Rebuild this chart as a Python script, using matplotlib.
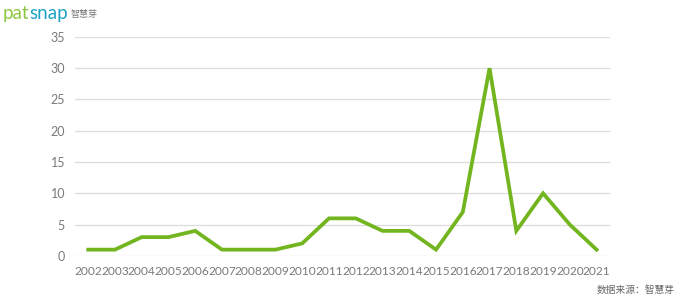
import matplotlib
matplotlib.use("Agg")
import matplotlib.pyplot as plt
from matplotlib.transforms import offset_copy

plt.rcParams['font.family'] = ['Lato', 'Noto Sans CJK SC', 'DejaVu Sans']

years = [2002, 2003, 2004, 2005, 2006, 2007, 2008, 2009, 2010, 2011,
         2012, 2013, 2014, 2015, 2016, 2017, 2018, 2019, 2020, 2021]
counts = [1, 1, 3, 3, 4, 1, 1, 1, 2, 6, 6, 4, 4, 1, 7, 30, 4, 10, 5, 1]
yticks = [0, 5, 10, 15, 20, 25, 30, 35]

fig = plt.figure(figsize=(6.8, 3.0), dpi=100)
ax = fig.add_axes([0.110, 0.147, 0.787, 0.730])

ax.plot(years, counts, color='#72b51f', linewidth=2.7, solid_joinstyle='miter', zorder=3)

ax.set_xlim(years[0] - 0.5, years[-1] + 0.5)
ax.set_ylim(0, 35)
ax.set_yticks(yticks)
ax.set_xticks(years)
ax.set_xticklabels([str(y) for y in years])
ax.grid(axis='y', color='#dcdcdc', linewidth=0.9)
ax.set_axisbelow(True)
for s in ax.spines.values():
    s.set_visible(False)
ax.tick_params(axis='both', length=0, colors='#7a7a7a', labelsize=9)
ax.tick_params(axis='x', labelsize=8.6)
ax.tick_params(axis='y', pad=7)
ax.tick_params(axis='x', pad=7)

# logo
renderer = fig.canvas.get_renderer()
t1 = fig.text(0.004, 0.955, 'pat', color='#8dc63f', fontsize=13.5, fontfamily='Lato',
              va='center', ha='left')
w1 = t1.get_window_extent(renderer).width
t2 = fig.text(0.004, 0.955, 'snap', color='#1aa3c4', fontsize=13.5, fontfamily='Lato',
              va='center', ha='left',
              transform=offset_copy(fig.transFigure, fig=fig, x=w1 * 72 / fig.dpi, units='points'))
w2 = t2.get_window_extent(renderer).width
fig.text(0.004, 0.952, '智慧芽', color='#7a7a7a', fontsize=6.5, fontfamily=['Noto Sans CJK SC'],
         va='center', ha='left',
         transform=offset_copy(fig.transFigure, fig=fig, x=(w1 + w2 + 3) * 72 / fig.dpi, units='points'))

# source
fig.text(0.992, 0.035, '数据来源：智慧芽', color='#666666', fontsize=7,
         fontfamily=['Noto Sans CJK SC', 'DejaVu Sans'], ha='right', va='center')

fig.savefig('out.png', dpi=100, facecolor='white')
